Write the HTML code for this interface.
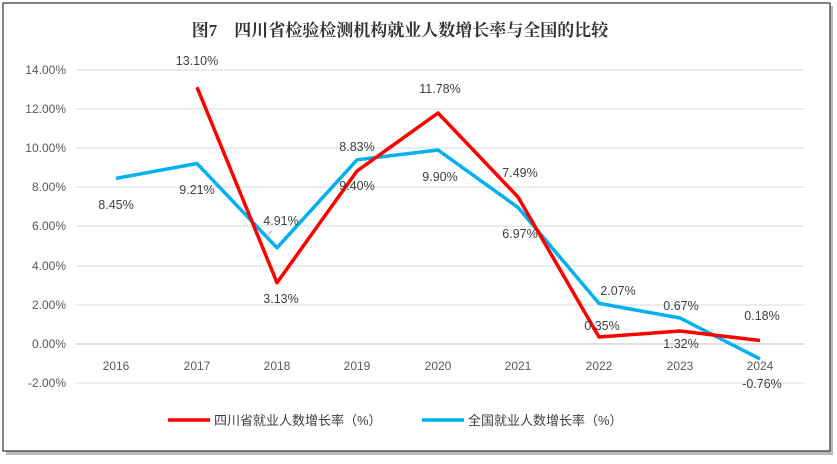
<!DOCTYPE html>
<html><head><meta charset="utf-8"><style>
body{margin:0;background:#fff;width:837px;height:459px;overflow:hidden}
</style></head><body>
<svg width="837" height="459" viewBox="0 0 837 459" xmlns="http://www.w3.org/2000/svg" font-family="Liberation Sans, Noto Sans CJK SC, sans-serif">
<rect x="6" y="6" width="827" height="449" fill="#bbb"/>
<rect x="3" y="3" width="827" height="448" fill="#fff" stroke="#333" stroke-width="1.2"/>
<text x="400" y="36" text-anchor="middle" font-family="Liberation Serif, Noto Serif CJK SC, serif" font-weight="bold" font-size="17" fill="#333">图7　四川省检验检测机构就业人数增长率与全国的比较</text>
<g stroke="#d9d9d9" stroke-width="1">
<line x1="75" x2="805" y1="70" y2="70"/><line x1="75" x2="805" y1="109" y2="109"/><line x1="75" x2="805" y1="148" y2="148"/><line x1="75" x2="805" y1="187" y2="187"/><line x1="75" x2="805" y1="226" y2="226"/><line x1="75" x2="805" y1="266" y2="266"/><line x1="75" x2="805" y1="305" y2="305"/><line x1="75" x2="805" y1="383" y2="383"/>
</g>
<line x1="75" x2="805" y1="344" y2="344" stroke="#bfbfbf"/>
<g font-size="12" fill="#595959" text-anchor="end">
<text x="66" y="74">14.00%</text><text x="66" y="113">12.00%</text><text x="66" y="152">10.00%</text><text x="66" y="191">8.00%</text><text x="66" y="230">6.00%</text><text x="66" y="270">4.00%</text><text x="66" y="309">2.00%</text><text x="66" y="348">0.00%</text><text x="66" y="387">-2.00%</text>
</g>
<g font-size="12" fill="#595959" text-anchor="middle">
<text x="116" y="370">2016</text><text x="197" y="370">2017</text><text x="277" y="370">2018</text><text x="357" y="370">2019</text><text x="438" y="370">2020</text><text x="518" y="370">2021</text><text x="599" y="370">2022</text><text x="680" y="370">2023</text><text x="760" y="370">2024</text>
</g>
<polyline fill="none" stroke="#00b0f0" stroke-width="3.5" stroke-linejoin="round" points="116,178.4 197,163.5 277,247.8 357,159.8 438,150 518,207.4 599,303.4 680,318 760,358.9"/>
<polyline fill="none" stroke="#ff0000" stroke-width="3.5" stroke-linejoin="round" points="197,87.2 277,282.7 357,171 438,113 518,197 599,337 680,331 760,340.5"/>
<line x1="272" y1="231" x2="265" y2="238" stroke="#a6a6a6"/>
<g font-size="12.5" fill="#404040" text-anchor="middle">
<text x="197" y="65">13.10%</text><text x="116" y="209">8.45%</text><text x="197" y="194">9.21%</text><text x="281" y="225">4.91%</text><text x="281" y="303">3.13%</text><text x="357" y="151">8.83%</text><text x="357" y="190">9.40%</text><text x="440" y="93">11.78%</text><text x="440" y="181">9.90%</text><text x="520" y="177">7.49%</text><text x="520" y="238">6.97%</text><text x="618" y="295">2.07%</text><text x="602" y="330">0.35%</text><text x="681" y="310">0.67%</text><text x="681" y="348">1.32%</text><text x="762" y="320">0.18%</text><text x="762" y="388">-0.76%</text>
</g>
<line x1="168" x2="210" y1="420" y2="420" stroke="#ff0000" stroke-width="3.5"/>
<text x="214" y="425" font-size="13" fill="#404040">四川省就业人数增长率（%）</text>
<line x1="422" x2="464" y1="420" y2="420" stroke="#00b0f0" stroke-width="3.5"/>
<text x="468" y="425" font-size="13" fill="#404040">全国就业人数增长率（%）</text>
</svg>
</body></html>
